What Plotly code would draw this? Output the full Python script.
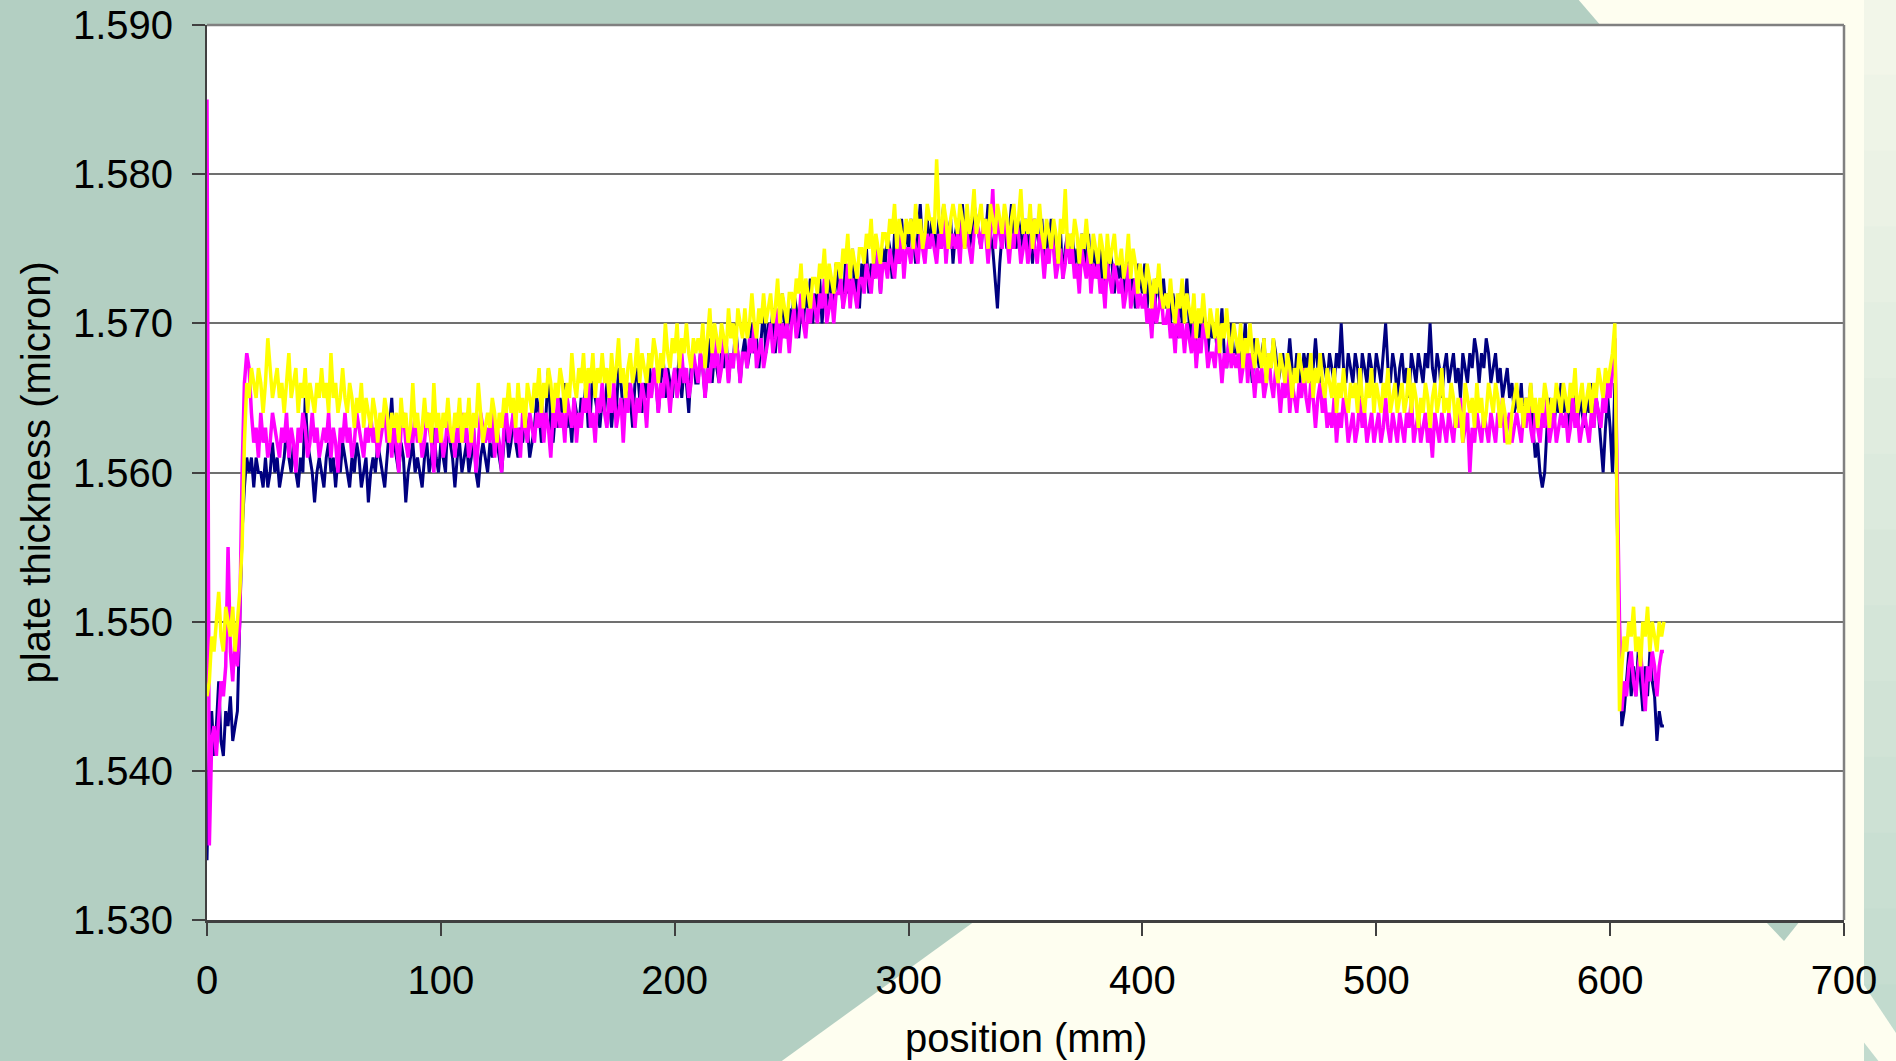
import plotly.graph_objects as go

# positions (mm), 1 mm sampling
POS_STEP_MM = 1.0

# thickness readings in thousandths above 1.500 micron (e.g. 61 -> 1.561)
navy_vals = [
    34, 42, 44, 41, 43, 46, 42, 41, 44, 43,
    45, 42, 43, 44, 50, 56, 59, 61, 60, 61,
    59, 61, 60, 60, 59, 61, 59, 60, 62, 60,
    61, 59, 60, 61, 63, 61, 60, 62, 60, 59,
    61, 60, 65, 62, 61, 60, 58, 60, 61, 60,
    59, 61, 62, 60, 61, 59, 61, 60, 62, 61,
    60, 59, 61, 60, 62, 61, 59, 60, 61, 58,
    60, 61, 60, 62, 61, 60, 59, 61, 63, 65,
    62, 61, 60, 62, 61, 58, 60, 61, 62, 60,
    61, 60, 59, 61, 62, 60, 61, 63, 61, 60,
    62, 61, 60, 64, 62, 61, 59, 61, 62, 60,
    61, 62, 60, 61, 63, 60, 59, 61, 62, 61,
    60, 62, 61, 63, 62, 61, 60, 62, 63, 61,
    62, 64, 62, 61, 63, 62, 64, 63, 61, 62,
    63, 65, 64, 62, 63, 64, 67, 63, 62, 64,
    63, 65, 64, 66, 63, 64, 62, 65, 64, 63,
    65, 64, 66, 63, 64, 67, 65, 64, 63, 65,
    64, 66, 65, 63, 65, 64, 67, 66, 64, 65,
    66, 65, 63, 66, 67, 65, 64, 66, 65, 68,
    65, 67, 66, 64, 66, 68, 65, 67, 66, 65,
    67, 66, 68, 65, 67, 66, 64, 67, 68, 66,
    66, 68, 67, 65, 67, 69, 66, 68, 67, 66,
    68, 67, 69, 66, 68, 67, 70, 68, 66, 68,
    69, 67, 68, 70, 68, 69, 67, 69, 71, 68,
    70, 69, 71, 68, 70, 69, 72, 70, 69, 71,
    70, 72, 71, 69, 71, 70, 72, 71, 73, 70,
    72, 71, 73, 70, 72, 71, 73, 72, 71, 74,
    72, 73, 71, 74, 72, 73, 75, 72, 73, 71,
    74, 73, 75, 72, 74, 73, 75, 74, 72, 75,
    74, 76, 75, 73, 76, 75, 74, 77, 75, 76,
    75, 77, 76, 74, 76, 78, 75, 76, 77, 75,
    77, 76, 75, 77, 76, 78, 75, 76, 77, 74,
    76, 77, 75, 78, 76, 77, 75, 76, 78, 77,
    76, 75, 77, 76, 78, 76, 75, 73, 71, 74,
    76, 77, 75, 76, 78, 76, 75, 77, 76, 75,
    77, 75, 76, 74, 77, 76, 75, 77, 74, 76,
    75, 77, 76, 74, 75, 76, 73, 75, 76, 74,
    76, 74, 75, 73, 76, 75, 74, 76, 73, 75,
    74, 73, 75, 72, 74, 73, 75, 74, 72, 74,
    73, 74, 72, 73, 75, 72, 73, 71, 74, 73,
    72, 74, 71, 73, 72, 70, 73, 72, 71, 73,
    71, 72, 70, 72, 71, 69, 72, 70, 71, 73,
    70, 69, 71, 68, 70, 69, 71, 70, 68, 70,
    69, 70, 68, 69, 71, 68, 67, 69, 70, 68,
    68, 69, 67, 68, 70, 67, 68, 66, 69, 68,
    67, 68, 69, 66, 68, 67, 69, 68, 66, 67,
    68, 66, 67, 69, 67, 66, 68, 67, 65, 68,
    67, 68, 66, 67, 69, 67, 66, 68, 67, 66,
    68, 67, 66, 68, 67, 70, 67, 66, 68, 67,
    66, 68, 67, 65, 68, 67, 66, 68, 67, 66,
    68, 67, 66, 68, 70, 67, 66, 68, 67, 65,
    67, 68, 66, 67, 65, 68, 67, 66, 68, 67,
    66, 68, 67, 70, 67, 66, 68, 67, 65, 67,
    68, 66, 67, 68, 66, 67, 65, 68, 67, 66,
    68, 67, 69, 68, 66, 68, 67, 69, 68, 66,
    67, 68, 66, 67, 65, 66, 67, 65, 66, 64,
    65, 64, 66, 63, 65, 64, 66, 63, 61, 62,
    60, 59, 60, 63, 65, 64, 63, 65, 64, 66,
    64, 65, 63, 64, 66, 64, 63, 65, 64, 63,
    65, 64, 66, 63, 65, 64, 62, 60, 63, 65,
    63, 60, 66, 58, 48, 43, 44, 46, 48, 45,
    47, 45, 48, 46, 44, 47, 45, 48, 46, 45,
    42, 44, 43, 43,
]

magenta_vals = [
    85, 35, 42, 43, 41, 44, 46, 45, 47, 55,
    48, 46, 49, 47, 50, 60, 66, 68, 67, 64,
    62, 63, 61, 64, 62, 63, 61, 62, 64, 63,
    62, 61, 63, 62, 64, 61, 63, 62, 60, 63,
    62, 64, 63, 61, 62, 64, 62, 63, 61, 62,
    63, 62, 64, 61, 63, 62, 60, 63, 62, 64,
    62, 63, 61, 62, 64, 63, 62, 61, 63, 62,
    64, 62, 63, 61, 62, 63, 64, 62, 63, 61,
    63, 62, 60, 63, 64, 62, 61, 63, 62, 64,
    62, 63, 61, 62, 64, 63, 62, 60, 63, 62,
    63, 61, 62, 64, 62, 63, 61, 63, 62, 64,
    62, 63, 61, 62, 63, 60, 62, 64, 63, 62,
    63, 62, 64, 61, 63, 62, 60, 63, 64, 62,
    63, 64, 62, 63, 61, 64, 63, 62, 64, 63,
    62, 64, 63, 65, 62, 64, 63, 61, 64, 63,
    65, 63, 64, 62, 65, 64, 63, 65, 62, 64,
    63, 65, 64, 66, 63, 64, 62, 65, 64, 66,
    64, 63, 65, 64, 66, 63, 64, 65, 62, 65,
    64, 66, 65, 63, 65, 64, 66, 65, 63, 66,
    65, 67, 66, 64, 66, 65, 67, 66, 64, 66,
    67, 65, 66, 68, 66, 67, 65, 66, 68, 67,
    66, 68, 67, 65, 67, 66, 68, 67, 69, 66,
    67, 69, 68, 66, 68, 67, 69, 68, 66, 68,
    68, 67, 69, 68, 70, 67, 68, 69, 67, 68,
    69, 70, 68, 69, 71, 68, 70, 69, 70, 68,
    70, 71, 69, 70, 72, 70, 69, 71, 70, 72,
    71, 70, 72, 71, 73, 70, 71, 72, 70, 72,
    72, 73, 71, 72, 74, 71, 73, 72, 71, 73,
    73, 72, 74, 73, 72, 74, 73, 75, 72, 74,
    74, 73, 75, 74, 73, 75, 74, 76, 73, 75,
    75, 74, 76, 75, 74, 76, 75, 74, 76, 75,
    76, 75, 74, 76, 75, 77, 74, 76, 75, 76,
    75, 76, 74, 77, 75, 76, 75, 74, 76, 77,
    76, 75, 77, 76, 74, 76, 79, 75, 77, 76,
    75, 77, 76, 74, 76, 75, 77, 76, 74, 75,
    76, 74, 75, 77, 75, 74, 76, 75, 73, 75,
    74, 76, 75, 73, 74, 75, 73, 74, 76, 74,
    75, 73, 74, 72, 75, 74, 73, 75, 72, 74,
    73, 74, 72, 73, 71, 74, 73, 72, 74, 73,
    72, 73, 71, 72, 74, 71, 72, 73, 71, 72,
    71, 72, 70, 71, 69, 72, 70, 71, 72, 70,
    70, 71, 69, 70, 68, 71, 69, 70, 68, 70,
    69, 68, 70, 67, 69, 68, 70, 69, 67, 68,
    68, 67, 69, 68, 66, 68, 67, 69, 67, 68,
    67, 68, 66, 67, 69, 66, 68, 67, 65, 67,
    66, 67, 65, 66, 68, 66, 65, 67, 66, 64,
    66, 65, 67, 64, 66, 65, 64, 66, 65, 67,
    65, 64, 66, 65, 63, 65, 66, 64, 65, 63,
    64, 63, 65, 62, 64, 63, 65, 64, 62, 63,
    64, 62, 63, 65, 63, 64, 62, 63, 64, 62,
    63, 64, 62, 63, 65, 63, 62, 64, 63, 62,
    64, 63, 62, 64, 63, 65, 62, 63, 64, 62,
    63, 64, 62, 63, 61, 64, 63, 62, 64, 63,
    62, 64, 63, 62, 64, 63, 65, 62, 63, 64,
    60, 63, 62, 64, 63, 62, 64, 63, 62, 64,
    63, 62, 64, 63, 65, 62, 63, 64, 62, 63,
    64, 63, 62, 64, 63, 65, 63, 62, 64, 63,
    62, 64, 63, 65, 62, 63, 64, 62, 63, 64,
    63, 64, 62, 63, 65, 63, 64, 62, 63, 64,
    63, 62, 64, 63, 65, 64, 63, 65, 64, 66,
    65, 67, 69, 60, 50, 44, 46, 45, 47, 48,
    46, 45, 47, 48, 46, 44, 47, 46, 48, 47,
    45, 47, 48, 48,
]

yellow_vals = [
    45, 46, 49, 48, 50, 52, 49, 48, 51, 50,
    49, 51, 48, 50, 52, 55, 62, 66, 65, 67,
    66, 65, 67, 66, 64, 66, 69, 67, 65, 66,
    67, 65, 66, 64, 66, 68, 65, 66, 67, 64,
    66, 65, 67, 64, 66, 65, 64, 66, 65, 67,
    65, 66, 64, 68, 65, 66, 64, 65, 67, 65,
    64, 66, 65, 63, 65, 64, 66, 63, 65, 64,
    63, 65, 64, 62, 64, 63, 65, 64, 62, 64,
    63, 64, 62, 65, 63, 64, 62, 63, 66, 63,
    64, 62, 63, 65, 63, 64, 62, 66, 63, 64,
    62, 64, 63, 65, 63, 62, 64, 63, 65, 62,
    64, 63, 65, 62, 64, 63, 66, 64, 62, 63,
    64, 63, 65, 64, 62, 64, 63, 65, 64, 66,
    64, 65, 63, 66, 64, 65, 63, 66, 65, 64,
    66, 65, 67, 64, 66, 65, 67, 66, 64, 66,
    65, 67, 66, 64, 66, 65, 68, 66, 65, 67,
    66, 68, 65, 67, 66, 68, 65, 67, 66, 68,
    66, 67, 65, 68, 66, 67, 69, 66, 67, 65,
    67, 68, 66, 67, 69, 66, 68, 67, 66, 68,
    67, 69, 68, 66, 68, 67, 70, 68, 67, 69,
    68, 70, 67, 69, 68, 70, 68, 67, 69, 68,
    69, 68, 70, 67, 69, 71, 68, 70, 69, 68,
    70, 69, 68, 71, 69, 70, 68, 71, 70, 69,
    71, 69, 70, 72, 70, 69, 71, 70, 72, 70,
    71, 72, 70, 71, 73, 70, 72, 71, 70, 72,
    72, 71, 73, 72, 74, 71, 73, 72, 71, 73,
    73, 72, 74, 73, 75, 72, 74, 73, 72, 74,
    74, 73, 75, 74, 76, 73, 75, 74, 73, 75,
    75, 74, 76, 75, 77, 74, 76, 75, 74, 76,
    76, 75, 77, 76, 78, 75, 77, 76, 75, 77,
    76, 77, 75, 78, 76, 77, 75, 76, 78, 77,
    77, 76, 81, 77, 76, 78, 77, 75, 77, 78,
    77, 76, 78, 77, 75, 78, 76, 77, 79, 76,
    77, 78, 76, 77, 75, 78, 77, 76, 78, 77,
    76, 78, 77, 75, 77, 78, 76, 77, 79, 76,
    77, 76, 78, 75, 77, 76, 78, 76, 75, 77,
    76, 75, 77, 76, 74, 77, 76, 79, 75, 76,
    75, 77, 76, 74, 76, 75, 77, 75, 74, 76,
    75, 74, 76, 75, 73, 76, 74, 75, 76, 74,
    74, 75, 73, 74, 76, 73, 75, 74, 72, 74,
    73, 72, 74, 73, 71, 73, 72, 74, 72, 71,
    72, 71, 73, 71, 70, 72, 71, 73, 70, 72,
    71, 70, 72, 69, 71, 70, 72, 70, 69, 71,
    70, 69, 71, 68, 70, 69, 71, 69, 68, 70,
    69, 68, 70, 67, 69, 68, 70, 68, 67, 69,
    68, 67, 69, 66, 68, 67, 69, 67, 66, 68,
    67, 66, 68, 67, 65, 67, 66, 68, 67, 66,
    67, 66, 68, 65, 67, 66, 68, 66, 65, 67,
    66, 65, 67, 64, 66, 65, 67, 65, 64, 66,
    65, 66, 64, 67, 65, 64, 66, 65, 67, 64,
    66, 65, 64, 66, 65, 67, 64, 65, 66, 64,
    65, 66, 64, 65, 67, 64, 66, 65, 63, 65,
    64, 66, 65, 63, 65, 66, 64, 65, 67, 64,
    65, 64, 66, 65, 63, 65, 64, 62, 66, 65,
    64, 65, 63, 66, 64, 65, 63, 64, 66, 65,
    64, 66, 65, 63, 65, 64, 62, 62, 64, 65,
    66, 64, 65, 63, 65, 64, 66, 64, 65, 63,
    65, 64, 66, 65, 63, 65, 64, 66, 65, 64,
    66, 65, 64, 66, 65, 67, 64, 65, 66, 64,
    65, 66, 64, 66, 65, 67, 66, 65, 67, 66,
    67, 68, 70, 57, 44, 47, 49, 48, 50, 49,
    51, 48, 49, 47, 50, 49, 51, 48, 50, 49,
    48, 50, 49, 50,
]

x_ticks = [0, 100, 200, 300, 400, 500, 600, 700]
y_ticks = [1.530, 1.540, 1.550, 1.560, 1.570, 1.580, 1.590]
x_title = "position (mm)"
y_title = "plate thickness (micron)"

W, H = 1896, 1061
L, R, T, B = 207, 52, 25, 141
PW, PH = W - L - R, H - T - B


def px(x):
    return (x - L) / PW


def py(y):
    return (H - B - y) / PH


def to_thick(vals):
    return [1.5 + v / 1000.0 for v in vals]


def positions(vals):
    return [i * POS_STEP_MM for i in range(len(vals))]


fig = go.Figure()
for vals, col, lw in [(navy_vals, "#000080", 3.0),
                      (magenta_vals, "#FF00FF", 3.5),
                      (yellow_vals, "#FFFF00", 3.5)]:
    fig.add_trace(go.Scatter(x=positions(vals), y=to_thick(vals), mode="lines",
                             line=dict(color=col, width=lw), showlegend=False,
                             hoverinfo="skip"))

GREEN = "#B3CFC2"
CREAM = "#FEFEF0"
shapes = []


def poly(pts, color):
    d = "M " + " L ".join(f"{px(a):.5f},{py(b):.5f}" for a, b in pts) + " Z"
    return dict(type="path", xref="paper", yref="paper", path=d,
                fillcolor=color, line=dict(width=0), layer="below")


# big green slide shape
shapes.append(poly([(-2, -2), (1577, -2), (1700, 141), (975, 921), (779, 1063), (-2, 1063)], GREEN))
# small green tip under plot right
shapes.append(poly([(1765, 921), (1800, 921), (1784, 941)], GREEN))
# right gradient strip
n = 14
top_c = (244, 247, 234)
bot_c = (192, 218, 205)
for i in range(n):
    y0 = H * i / n - 1
    y1 = H * (i + 1) / n + 1
    t = (i + 0.5) / n
    c = tuple(int(round(top_c[k] + (bot_c[k] - top_c[k]) * t)) for k in range(3))
    shapes.append(poly([(1864, y0), (W + 2, y0), (W + 2, y1), (1864, y1)], f"rgb{c}"))
# cream cut at bottom of strip
shapes.append(poly([(1862, 982), (1898, 1036), (1898, 1063), (1880, 1063), (1862, 1040)], CREAM))
# white plot area
shapes.append(dict(type="rect", xref="paper", yref="paper", x0=0, x1=1, y0=0, y1=1,
                   fillcolor="white", line=dict(width=0), layer="below"))
# top and right plot borders
shapes.append(dict(type="line", xref="paper", yref="paper", x0=0, x1=1, y0=1, y1=1,
                   line=dict(color="#808080", width=2.5), layer="above"))
shapes.append(dict(type="line", xref="paper", yref="paper", x0=1, x1=1, y0=0, y1=1,
                   line=dict(color="#808080", width=2.5), layer="above"))

font = "Liberation Sans, Arial, sans-serif"
fig.update_layout(
    width=W, height=H, autosize=False,
    margin=dict(l=L, r=R, t=T, b=B, pad=0),
    paper_bgcolor=CREAM, plot_bgcolor="white",
    font=dict(family=font, size=40, color="black"),
    shapes=shapes,
    annotations=[
        dict(text=x_title, xref="paper", yref="paper", x=0.5, y=py(1038),
             xanchor="center", yanchor="middle", showarrow=False,
             font=dict(family=font, size=40, color="black")),
        dict(text=y_title, xref="paper", yref="paper", x=px(35), y=0.5,
             xanchor="center", yanchor="middle", textangle=-90, showarrow=False,
             font=dict(family=font, size=40, color="black")),
    ],
)
fig.update_xaxes(range=[0, 700], tickvals=x_ticks, ticktext=[str(v) for v in x_ticks],
                 ticks="outside", ticklen=13, tickwidth=1.5, tickcolor="#404040",
                 showline=True, linecolor="#404040", linewidth=2.5, automargin=False,
                 showgrid=False, zeroline=False, ticklabelstandoff=10,
                 tickfont=dict(size=40, family=font, color="black"))
fig.update_yaxes(range=[1.530, 1.590], tickvals=y_ticks, ticktext=[f"{v:.3f}" for v in y_ticks],
                 ticks="outside", ticklen=13, tickwidth=1.5, tickcolor="#404040",
                 showline=True, linecolor="#404040", linewidth=2, automargin=False,
                 showgrid=True, gridcolor="#707070", gridwidth=1.5, zeroline=False,
                 ticklabelstandoff=11,
                 tickfont=dict(size=40, family=font, color="black"))

fig.write_html("out.html", config={"displayModeBar": False},
               post_script="document.body.style.margin='0';document.body.style.padding='0';"
                           "document.body.style.overflow='hidden';")
